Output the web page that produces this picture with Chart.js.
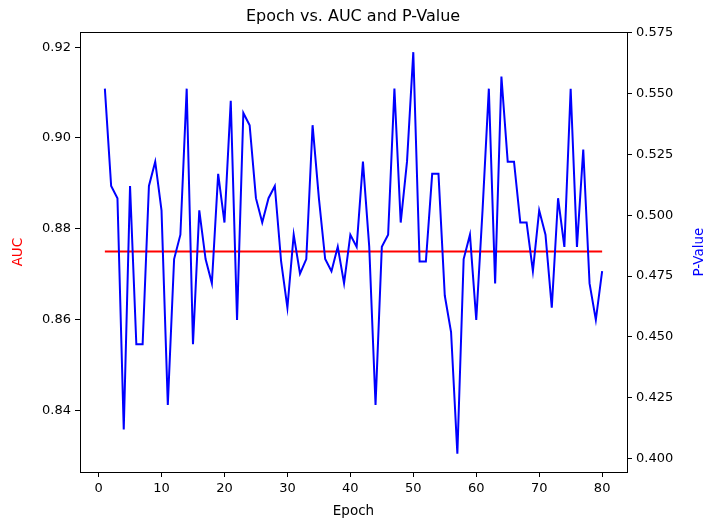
<!DOCTYPE html>
<html>
<head>
<meta charset="utf-8">
<title>Epoch vs. AUC and P-Value</title>
<script src="https://cdn.jsdelivr.net/npm/chart.js@4/dist/chart.umd.min.js"></script>
<style>
  body { margin: 0; background: #fff; }
</style>
</head>
<body>
<canvas id="chart" width="706" height="522"></canvas>
<script>
// Epochs 1..80
const epochs = [
  1, 2, 3, 4, 5, 6, 7, 8, 9, 10,
  11, 12, 13, 14, 15, 16, 17, 18, 19, 20,
  21, 22, 23, 24, 25, 26, 27, 28, 29, 30,
  31, 32, 33, 34, 35, 36, 37, 38, 39, 40,
  41, 42, 43, 44, 45, 46, 47, 48, 49, 50,
  51, 52, 53, 54, 55, 56, 57, 58, 59, 60,
  61, 62, 63, 64, 65, 66, 67, 68, 69, 70,
  71, 72, 73, 74, 75, 76, 77, 78, 79, 80
];

// AUC stays flat over all epochs
const aucValues = [
  0.875, 0.875, 0.875, 0.875, 0.875, 0.875, 0.875, 0.875, 0.875, 0.875,
  0.875, 0.875, 0.875, 0.875, 0.875, 0.875, 0.875, 0.875, 0.875, 0.875,
  0.875, 0.875, 0.875, 0.875, 0.875, 0.875, 0.875, 0.875, 0.875, 0.875,
  0.875, 0.875, 0.875, 0.875, 0.875, 0.875, 0.875, 0.875, 0.875, 0.875,
  0.875, 0.875, 0.875, 0.875, 0.875, 0.875, 0.875, 0.875, 0.875, 0.875,
  0.875, 0.875, 0.875, 0.875, 0.875, 0.875, 0.875, 0.875, 0.875, 0.875,
  0.875, 0.875, 0.875, 0.875, 0.875, 0.875, 0.875, 0.875, 0.875, 0.875,
  0.875, 0.875, 0.875, 0.875, 0.875, 0.875, 0.875, 0.875, 0.875, 0.875
];

// P-value per epoch
const pValues = [
  0.552, 0.512, 0.507, 0.412, 0.512, 0.447, 0.447, 0.512, 0.522, 0.502,
  0.422, 0.482, 0.492, 0.552, 0.447, 0.502, 0.482, 0.472, 0.517, 0.497,
  0.547, 0.457, 0.542, 0.537, 0.507, 0.497, 0.507, 0.512, 0.481, 0.462,
  0.492, 0.476, 0.482, 0.537, 0.507, 0.482, 0.477, 0.487, 0.472, 0.492,
  0.487, 0.522, 0.487, 0.422, 0.487, 0.492, 0.552, 0.497, 0.522, 0.567,
  0.481, 0.481, 0.517, 0.517, 0.467, 0.452, 0.402, 0.482, 0.492, 0.457,
  0.502, 0.552, 0.472, 0.557, 0.522, 0.522, 0.497, 0.497, 0.477, 0.502,
  0.492, 0.462, 0.507, 0.487, 0.552, 0.487, 0.527, 0.472, 0.457, 0.477
];

// tick labels
const epochTicks = [0, 10, 20, 30, 40, 50, 60, 70, 80];
const aucTicks = [0.84, 0.86, 0.88, 0.90, 0.92];
const pTicks = [0.400, 0.425, 0.450, 0.475, 0.500, 0.525, 0.550, 0.575];

const FONT = "'DejaVu Sans', sans-serif";

// matplotlib-style box: axes draw left/right/bottom, this adds the top spine
// and the right-hand label, which matplotlib rotates the same way as the left one
const frameExtras = {
  id: 'frameExtras',
  afterDraw(chart) {
    const { ctx, chartArea } = chart;
    const y = Math.round(chartArea.top) + 0.5;
    ctx.save();
    ctx.strokeStyle = '#000';
    ctx.lineWidth = 1;
    ctx.beginPath();
    ctx.moveTo(chartArea.left, y);
    ctx.lineTo(chartArea.right + 1, y);
    ctx.stroke();

    ctx.translate(699, (chartArea.top + chartArea.bottom) / 2);
    ctx.rotate(-Math.PI / 2);
    ctx.fillStyle = '#0000ff';
    ctx.font = '13.5px ' + FONT;
    ctx.textAlign = 'center';
    ctx.textBaseline = 'middle';
    ctx.fillText('P-Value', 0, 0);
    ctx.restore();
  }
};

const toPoints = (xs, ys) => xs.map((x, i) => ({ x: x, y: ys[i] }));
const fixedTicks = list => scale => { scale.ticks = list.map(v => ({ value: v })); };

new Chart(document.getElementById('chart'), {
  type: 'line',
  data: {
    datasets: [
      {
        label: 'P-Value',
        data: toPoints(epochs, pValues),
        yAxisID: 'y1',
        borderColor: '#0000ff',
        borderWidth: 2,
        pointRadius: 0,
        tension: 0
      },
      {
        label: 'AUC',
        data: toPoints(epochs, aucValues),
        yAxisID: 'y',
        borderColor: '#ff0000',
        borderWidth: 2,
        pointRadius: 0,
        tension: 0
      }
    ]
  },
  options: {
    responsive: false,
    animation: false,
    layout: { padding: 0 },
    plugins: {
      legend: { display: false },
      tooltip: { enabled: false },
      title: {
        display: true,
        text: 'Epoch vs. AUC and P-Value',
        color: '#000',
        font: { family: FONT, size: 16, weight: 'normal', lineHeight: 1.2 },
        padding: { top: 7, bottom: 6 }
      }
    },
    scales: {
      x: {
        type: 'linear',
        min: -2.95,
        max: 83.95,
        afterBuildTicks: fixedTicks(epochTicks),
        afterFit: s => { s.height = 50; },
        grid: { display: true, drawOnChartArea: false, color: '#000', tickLength: 5 },
        border: { color: '#000', width: 1 },
        ticks: {
          color: '#000',
          padding: 4,
          maxRotation: 0,
          font: { family: FONT, size: 13 },
          callback: v => String(v)
        },
        title: {
          display: true,
          text: 'Epoch',
          color: '#000',
          font: { family: FONT, size: 13.5, lineHeight: 1.2 },
          padding: { bottom: 2 }
        }
      },
      y: {
        position: 'left',
        min: 0.8264,
        max: 0.9233,
        afterBuildTicks: fixedTicks(aucTicks),
        afterFit: s => { s.width = 80; },
        grid: { display: true, drawOnChartArea: false, color: '#000', tickLength: 5 },
        border: { color: '#000', width: 1 },
        ticks: {
          color: '#000',
          padding: 4,
          font: { family: FONT, size: 13 },
          callback: v => v.toFixed(2)
        },
        title: {
          display: true,
          text: 'AUC',
          color: '#ff0000',
          font: { family: FONT, size: 13.5, lineHeight: 1.2 },
          padding: { top: 10 }
        }
      },
      y1: {
        position: 'right',
        min: 0.3945,
        max: 0.5752,
        afterBuildTicks: fixedTicks(pTicks),
        afterFit: s => { s.width = 79; },
        grid: { display: true, drawOnChartArea: false, color: '#000', tickLength: 5 },
        border: { color: '#000', width: 1 },
        ticks: {
          color: '#000',
          padding: 4,
          font: { family: FONT, size: 13 },
          callback: v => v.toFixed(3)
        },
        title: { display: false }
      }
    }
  },
  plugins: [frameExtras]
});
</script>
</body>
</html>
